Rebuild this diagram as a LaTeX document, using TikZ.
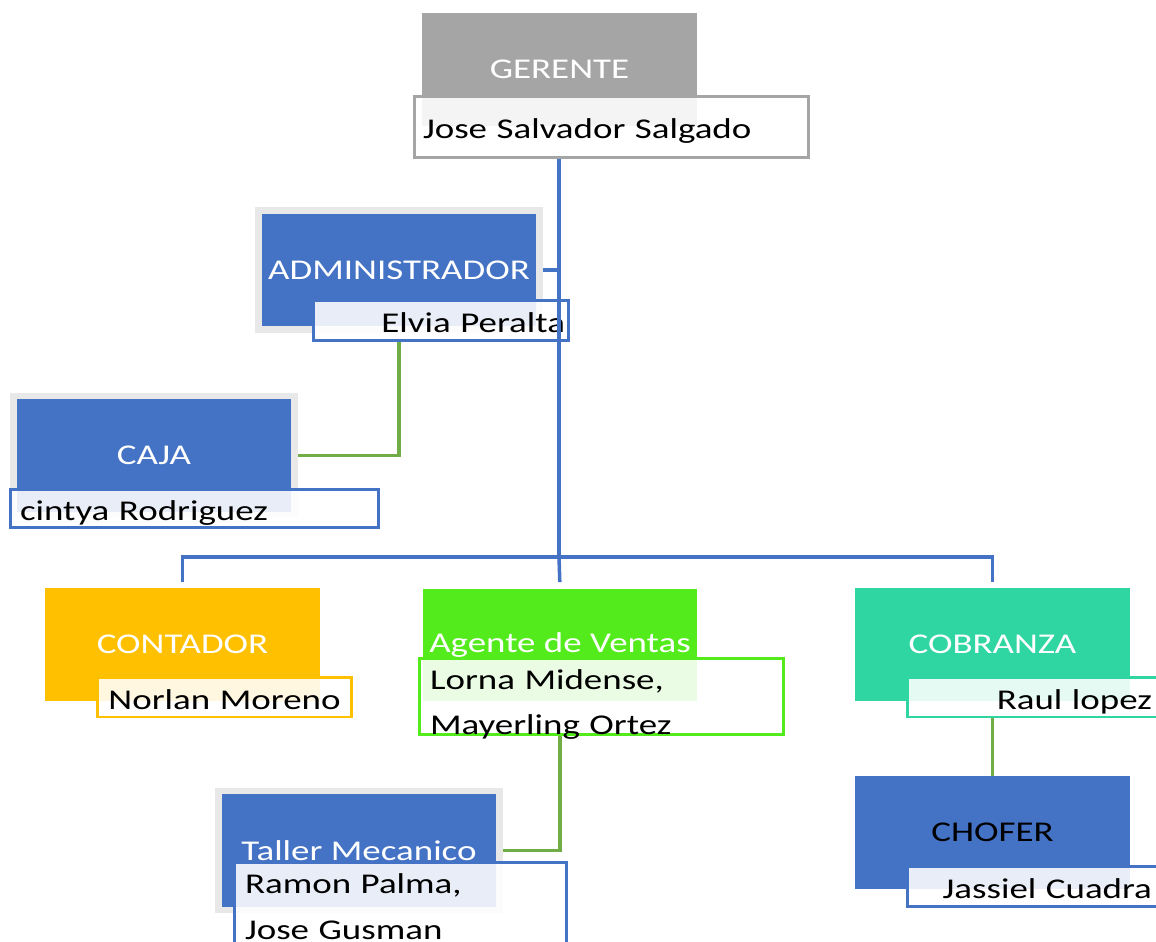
\documentclass[tikz,border=0pt]{standalone}
\usepackage{fontspec}
\setmainfont{Carlito}[FakeStretch=1.29]
\definecolor{orgblue}{HTML}{4472C4}
\definecolor{orggray}{HTML}{A5A5A5}
\definecolor{orgframe}{HTML}{E8E8E8}
\definecolor{orgyellow}{HTML}{FFC000}
\definecolor{orggreen}{HTML}{54EB1C}
\definecolor{orgteal}{HTML}{2FD6A1}
\definecolor{orglink}{HTML}{70AD47}
\begin{document}
\begin{tikzpicture}[x=0.02cm, y=-0.02cm, every node/.style={font=\fontsize{16.3}{26}\selectfont},
  role/.style={fill=#1, text=white, minimum width=5.5cm, minimum height=2.26cm, inner sep=0pt},
  greyframe/.style={draw=orgframe, line width=0.13cm, minimum width=5.63cm, minimum height=2.39cm},
  namebox/.style={draw=#1, line width=0.06cm, fill=white, fill opacity=0.88, text opacity=1, text=black,
    inner xsep=0.18cm, inner ysep=0pt, text height=0.5cm, text depth=0.02cm},
  blueline/.style={draw=orgblue, line width=0.07cm}, greenline/.style={draw=orglink, line width=0.07cm}]
  \useasboundingbox (0,0) rectangle (1156,942);
  \node[role=orggray] (gerente) at (559.5,69.5) {GERENTE};
  \node[namebox=orggray, minimum width=7.9cm, minimum height=1.24cm, text width=7.54cm, align=left]
    (gerente-name) at (611.5,127) {Jose Salvador Salgado};
  \node[role=orgblue, greyframe] (admin) at (399,270) {ADMINISTRADOR};
  \node[namebox=orgblue, minimum width=5.12cm, minimum height=0.82cm, inner xsep=0.08cm, text width=4.96cm, align=right]
    (admin-name) at (441,320.5) {Elvia Peralta};
  \node[role=orgblue, greyframe] (caja) at (154,455.5) {CAJA};
  \node[namebox=orgblue, minimum width=7.38cm, minimum height=0.78cm, inner xsep=0.2cm, text width=6.98cm, align=left]
    (caja-name) at (194.5,508.5) {cintya Rodriguez};
  \node[role=orgyellow] (contador) at (182.5,644.5) {CONTADOR};
  \node[namebox=orgyellow, minimum width=5.1cm, minimum height=0.8cm, text width=4.74cm, align=center]
    (contador-name) at (224.5,697) {Norlan Moreno};
  \node[role=orggreen] (ventas) at (560,645) {Agente de Ventas};
  \node[namebox=orggreen, minimum width=7.3cm, minimum height=1.54cm, inner xsep=0.22cm, text width=6.86cm, align=left,
    text depth=0.8cm] (ventas-name) at (601.5,696.5) {Lorna Midense,\\Mayerling Ortez};
  \node[role=orgteal] (cobranza) at (992.5,644.5) {COBRANZA};
  \node[namebox=orgteal, minimum width=5.1cm, minimum height=0.8cm, inner xsep=0.2cm, text width=4.7cm, align=right]
    (cobranza-name) at (1034.5,697) {Raul lopez};
  \node[role=orgblue, greyframe] (taller) at (359,850.5) {Taller Mecanico};
  \node[namebox=orgblue, minimum width=6.66cm, minimum height=1.96cm, inner xsep=0.22cm, text width=6.22cm, align=left,
    text depth=1.2cm] (taller-name) at (400.5,911) {Ramon Palma,\\Jose Gusman};
  \node[role=orgblue, text=black] (chofer) at (992.5,832.5) {CHOFER};
  \node[namebox=orgblue, minimum width=5.1cm, minimum height=0.8cm, inner xsep=0.2cm, text width=4.7cm, align=right]
    (chofer-name) at (1034.5,886) {Jassiel Cuadra};
  \coordinate (bus) at (559,557);
  \draw[blueline] (bus |- gerente-name.south) -- (bus);
  \draw[blueline] (admin.east) -- (admin.east -| bus);
  \draw[blueline, shorten <=0.12cm, shorten >=0.12cm] (contador.north) -- (contador.north |- bus)
    -- (cobranza.north |- bus) -- (cobranza.north);
  \draw[blueline, shorten >=0.12cm] (bus) -- (ventas.north);
  \draw[greenline] (admin.south |- admin-name.south) -- (admin.south |- caja.east) -- (caja.east);
  \draw[greenline] (ventas.south |- ventas-name.south) -- (ventas.south |- taller.east) -- (taller.east);
  \draw[greenline] (cobranza.south |- cobranza-name.south) -- (chofer.north);
\end{tikzpicture}
\end{document}
